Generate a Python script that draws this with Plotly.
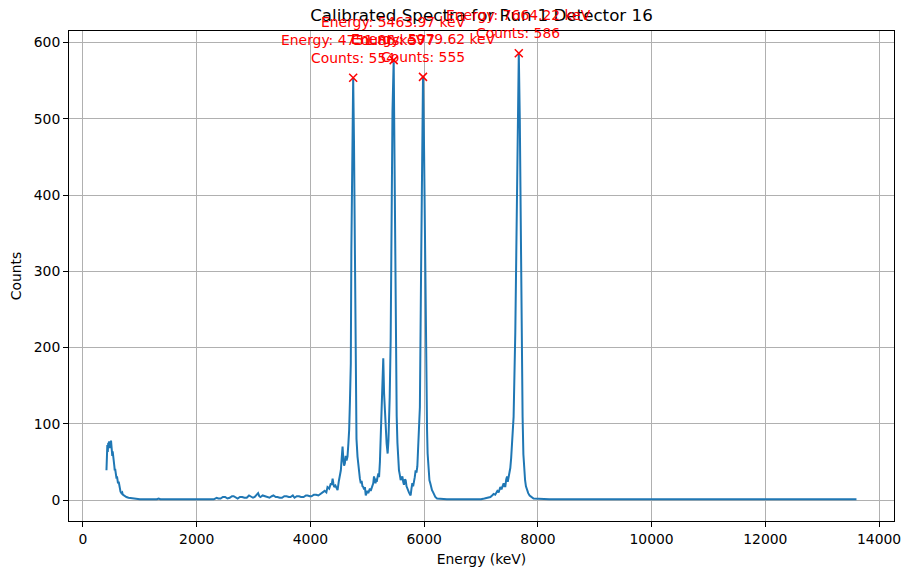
import plotly.graph_objects as go

# Spectrum (energy in keV, counts)
energy = [
    413, 420, 428, 436, 444, 452, 460, 468, 476, 485, 493, 500, 508, 515, 522, 528, 536, 545, 552, 558, 566, 575,
    583, 590, 598, 605, 616, 628, 640, 650, 660, 676, 690, 700, 715, 730, 764, 800, 850, 900,
    1000, 1300, 1330, 1360, 1800, 2300,
    2350, 2380, 2420, 2460, 2500, 2540, 2580, 2620, 2650, 2690, 2720, 2760, 2800, 2840, 2880, 2920, 2950, 2990,
    3020, 3050, 3080, 3100, 3120, 3160, 3200, 3240, 3280, 3320, 3350, 3390, 3420, 3460, 3500, 3540, 3580, 3620,
    3650, 3690, 3720, 3760, 3800, 3834, 3880, 3920, 3950, 3990, 4020, 4060, 4100, 4140, 4184, 4220, 4250, 4280,
    4300, 4330, 4360, 4375, 4390, 4405, 4418, 4440, 4460, 4477, 4500, 4520, 4535, 4550, 4565, 4580, 4592, 4605,
    4620, 4635, 4652, 4668, 4681, 4695, 4710, 4720, 4737, 4751.86, 4766, 4780, 4795, 4810, 4828, 4842, 4856, 4870,
    4886, 4900, 4915, 4930, 4944, 4958, 4973, 4988, 5002, 5017, 5031, 5046, 5060, 5075, 5091, 5105, 5118,
    5131, 5145, 5155, 5166, 5180, 5195, 5207, 5222, 5240, 5258, 5268, 5281, 5295, 5310, 5325, 5340, 5358, 5372,
    5394, 5411, 5429, 5443, 5463.97, 5476, 5487,
    5499, 5517, 5530, 5540, 5548, 5557, 5572, 5587, 5602, 5617, 5631, 5645, 5660, 5675, 5690, 5705, 5718, 5732,
    5747, 5762, 5777, 5792, 5806, 5820, 5835, 5850, 5865, 5880, 5895, 5908, 5925, 5946, 5967,
    5979.62, 5997, 6020, 6038, 6051, 6061, 6070, 6079, 6093, 6108, 6123, 6138, 6152, 6166, 6180, 6196, 6226,
    6400, 6800, 7000, 7060, 7100,
    7130, 7165, 7195, 7222, 7250, 7287, 7310, 7340, 7360, 7380, 7398, 7413, 7428, 7443, 7458, 7470, 7480, 7497,
    7515, 7530, 7545, 7560, 7573, 7603, 7629, 7650, 7664.22, 7682, 7699,
    7717, 7731, 7745, 7760, 7775, 7790, 7805, 7830, 7855, 7882, 7924, 8200, 10000, 12000, 13603,
]
counts = [
    39, 55, 72, 63, 75, 70, 77, 68, 74, 72, 78, 66, 70, 58, 64, 57, 52, 50, 44, 39, 41, 36,
    30, 28, 31, 26, 22, 24, 17, 14, 11, 9, 10, 7, 6, 5, 4, 3, 2, 2,
    1, 1, 2, 1, 1, 1,
    3, 2, 2, 4, 4, 2, 3, 5, 5, 3, 2, 4, 4, 3, 3, 6, 5, 3,
    4, 6, 9, 5, 4, 6, 5, 3, 3, 5, 6, 4, 4, 3, 3, 5, 5, 4,
    4, 6, 3, 5, 5, 4, 4, 6, 6, 5, 5, 7, 7, 6, 8, 10, 12, 10,
    17, 15, 22, 20, 28, 21, 17, 19, 14, 13, 25, 33, 39, 55, 70, 52, 45, 48,
    58, 52, 57, 75, 92, 130, 179, 330, 480, 554, 470, 300, 160, 80, 57, 44, 35, 28,
    22, 25, 18, 17, 14, 17, 6, 10, 12, 9, 13, 15, 12, 16, 17, 22, 31,
    26, 22, 28, 24, 30, 35, 30, 50, 92, 135, 160, 186, 140, 114, 80, 74, 61, 78,
    135, 210, 380, 510, 577, 480, 330,
    210, 110, 75, 57, 48, 39, 33, 26, 29, 31, 24, 20, 27, 26, 18, 14, 12, 10,
    8, 6, 15, 22, 18, 22, 30, 39, 36, 44, 70, 109, 122, 300, 480,
    555, 470, 260, 150, 92, 61, 45, 31, 26, 22, 16, 13, 11, 9, 6, 4, 2,
    1, 1, 1, 2, 3,
    3, 4, 6, 8, 7, 12, 10, 17, 14, 20, 22, 18, 18, 27, 31, 24, 28, 33,
    42, 55, 70, 90, 109, 220, 380, 520, 586, 500, 330,
    180, 110, 60, 40, 26, 18, 13, 9, 6, 4, 2, 1, 1, 1, 1,
]

# Identified peaks
peak_energy = [4751.86, 5463.97, 5979.62, 7664.22]
peak_counts = [554, 577, 555, 586]

x_ticks = [0, 2000, 4000, 6000, 8000, 10000, 12000, 14000]
y_ticks = [0, 100, 200, 300, 400, 500, 600]

FONT = "DejaVu Sans"

fig = go.Figure()
fig.add_trace(go.Scatter(
    x=energy, y=counts, mode="lines",
    line=dict(color="#1f77b4", width=2),
    showlegend=False, hoverinfo="skip",
))
fig.add_trace(go.Scatter(
    x=peak_energy, y=peak_counts, mode="markers",
    marker=dict(symbol="x-thin", size=8, line=dict(color="red", width=1.5), color="red"),
    showlegend=False,
))

for e, c in zip(peak_energy, peak_counts):
    fig.add_annotation(
        x=e, y=c, xref="x", yref="y",
        text=f"Energy: {e:.2f} keV<br>Counts: {c}",
        showarrow=False, yanchor="bottom", xanchor="center", yshift=10,
        font=dict(family=FONT, size=13.9, color="red"),
    )

fig.update_layout(
    width=901, height=571,
    margin=dict(l=69, r=7, t=31, b=50),
    paper_bgcolor="white", plot_bgcolor="white",
    font=dict(family=FONT, size=13.9, color="black"),
    title=dict(
        text="Calibrated Spectra for Run-1 Detector 16",
        x=0.5, xref="paper", xanchor="center",
        y=1 - 15 / 571, yref="container", yanchor="middle",
        font=dict(family=FONT, size=16.7, color="black"),
    ),
)
fig.update_xaxes(
    range=[-246, 14263], tickvals=x_ticks, ticktext=[str(v) for v in x_ticks],
    showgrid=True, gridcolor="#b0b0b0", gridwidth=1,
    showline=True, linecolor="black", linewidth=1, mirror=True,
    ticks="outside", ticklen=5, tickwidth=1, tickcolor="black",
    ticklabeloverflow="allow",
    zeroline=False, automargin=False,
    title=dict(text="Energy (keV)", standoff=8, font=dict(family=FONT, size=13.9)),
)
fig.update_yaxes(
    range=[-27.5, 615.2], tickvals=y_ticks, ticktext=[str(v) for v in y_ticks],
    showgrid=True, gridcolor="#b0b0b0", gridwidth=1,
    showline=True, linecolor="black", linewidth=1, mirror=True,
    ticks="outside", ticklen=5, tickwidth=1, tickcolor="black",
    ticklabeloverflow="allow",
    zeroline=False, automargin=False,
    title=dict(text="Counts", standoff=8, font=dict(family=FONT, size=13.9)),
)

fig.write_html(
    "out.html",
    config={"displayModeBar": False},
    post_script="document.body.style.margin='0';document.body.style.overflow='hidden';",
)
